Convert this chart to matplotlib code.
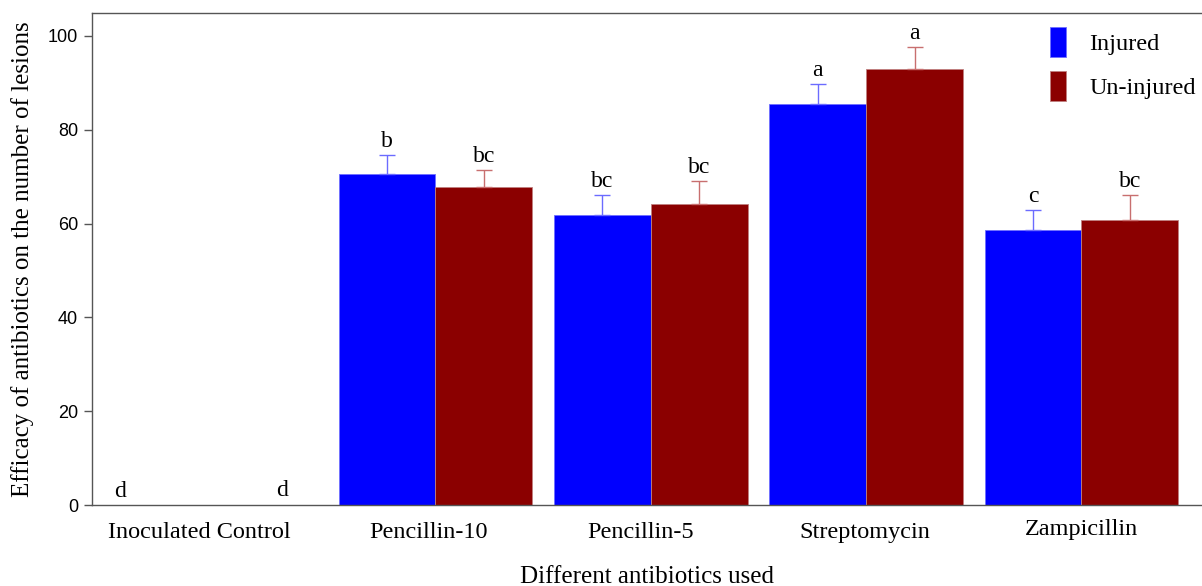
import matplotlib
matplotlib.use("Agg")
import matplotlib.pyplot as plt
import matplotlib.transforms as mtransforms
import numpy as np

categories = ["Inoculated Control", "Pencillin-10", "Pencillin-5", "Streptomycin", "Zampicillin"]
injured = [0.0, 70.6, 61.8, 85.5, 58.6]
injured_err = [0.0, 4.0, 4.3, 4.3, 4.3]
uninjured = [0.0, 67.8, 64.2, 93.0, 60.8]
uninjured_err = [0.0, 3.6, 4.9, 4.7, 5.3]
injured_letters = ["d", "b", "bc", "a", "c"]
uninjured_letters = ["d", "bc", "bc", "a", "bc"]

serif = ["Liberation Serif", "DejaVu Serif"]
sans = ["Liberation Sans", "DejaVu Sans"]

fig = plt.figure(figsize=(12.02, 5.86), dpi=100)
ax = fig.add_axes([92/1202, 1-505/586, 1-92/1202, (505-13)/586])

x = np.arange(len(categories))
w = 0.45
ax.bar(x - w/2, injured, w, color="#0000ff", edgecolor="#6f6fff", linewidth=0.6, label="Injured")
ax.bar(x + w/2, uninjured, w, color="#8b0000", edgecolor="#c08080", linewidth=0.6, label="Un-injured")

for i in range(1, len(categories)):
    ax.errorbar(x[i] - w/2, injured[i], yerr=[[0], [injured_err[i]]], fmt="none",
                ecolor="#6b6bff", elinewidth=1.0, capsize=6, capthick=1.0)
    ax.errorbar(x[i] + w/2, uninjured[i], yerr=[[0], [uninjured_err[i]]], fmt="none",
                ecolor="#c86f6f", elinewidth=1.0, capsize=6, capthick=1.0)
    ax.annotate(injured_letters[i], (x[i] - w/2, injured[i] + injured_err[i]),
                xytext=(0, 2), textcoords="offset points", ha="center", va="bottom",
                fontsize=17, family=serif)
    ax.annotate(uninjured_letters[i], (x[i] + w/2, uninjured[i] + uninjured_err[i]),
                xytext=(0, 2), textcoords="offset points", ha="center", va="bottom",
                fontsize=17, family=serif)

# control letters
ax.text(-0.465, 0.6, injured_letters[0], ha="center", va="bottom", fontsize=17, family=serif)
ax.text(0.288, 0.9, uninjured_letters[0], ha="center", va="bottom", fontsize=17, family=serif)

ax.set_xlim(-0.595, 4.56)
ax.set_ylim(0, 104.9)
ax.set_yticks([0, 20, 40, 60, 80, 100])
ax.set_xticks(x)
ax.set_xticklabels(categories, fontsize=17.5, family=serif)
for lab in ax.get_yticklabels():
    lab.set_family(sans)
    lab.set_fontsize(13)
ax.tick_params(axis="x", length=0, pad=12)
ax.tick_params(axis="y", length=6, width=1, color="#555555", pad=4)

# small horizontal offsets of the category labels (pixels), as in the reference
label_shift_px = [-20.5, -7, -10, -1, 0]
label_lift_px = [0, 0, 0, 0, 3]
for lab, dx, dy in zip(ax.get_xticklabels(), label_shift_px, label_lift_px):
    lab.set_transform(lab.get_transform() + mtransforms.ScaledTranslation(dx/100, dy/100, fig.dpi_scale_trans))

for s in ["left", "top", "bottom"]:
    ax.spines[s].set_color("#555555")
    ax.spines[s].set_linewidth(1.0)
ax.spines["right"].set_visible(False)

ax.set_xlabel("Different antibiotics used", fontsize=18, family=serif, labelpad=17)
ax.set_ylabel("Efficacy of antibiotics on the number of lesions", fontsize=18, family=serif, labelpad=10)

leg = ax.legend(loc="upper right", bbox_to_anchor=(1.014, 1.016), frameon=False,
                prop={"family": serif, "size": 17.5}, handlelength=0.66, handleheight=1.55,
                handletextpad=0.95, labelspacing=0.55)

fig.savefig("out.png", dpi=100)
